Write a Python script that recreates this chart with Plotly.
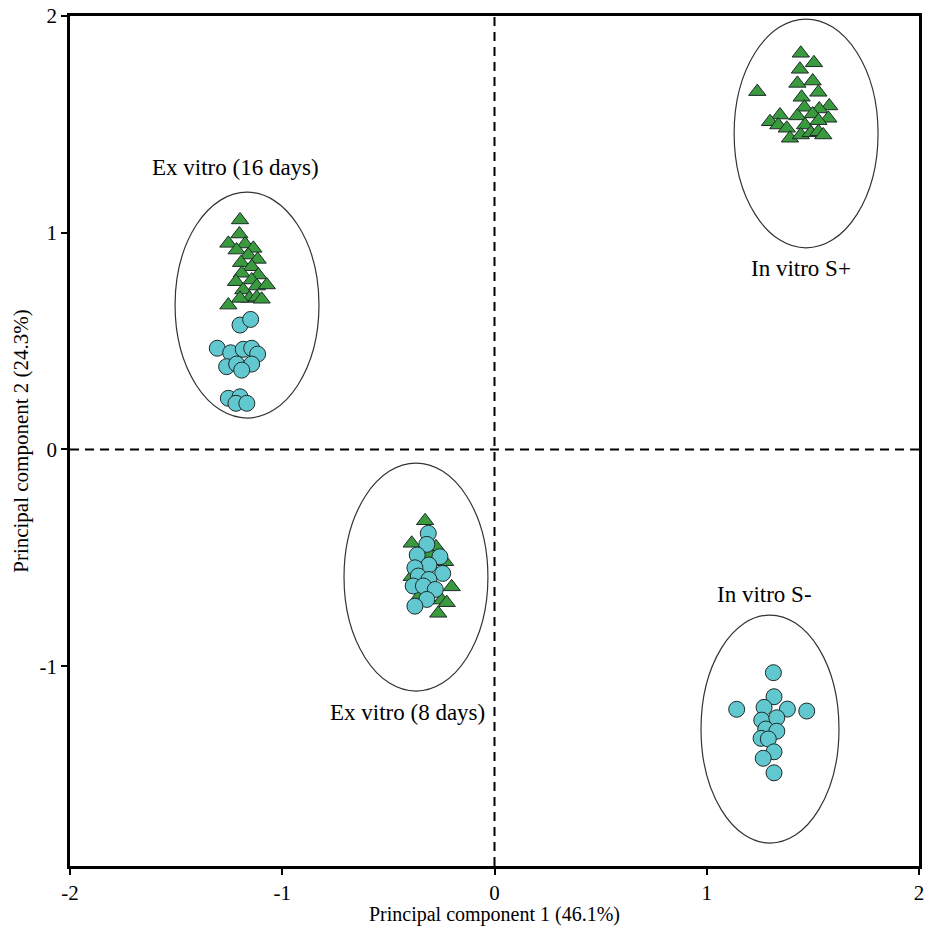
import plotly.graph_objects as go

# ---- data (PC1, PC2 scores) ----
ex16_tri_x = [-1.199, -1.202, -1.254, -1.175, -1.215, -1.136, -1.160, -1.116, -1.194, -1.144, -1.113,
              -1.191, -1.218, -1.144, -1.120, -1.073, -1.184, -1.155, -1.199, -1.254, -1.120, -1.097]
ex16_tri_y = [1.059, 0.994, 0.951, 0.948, 0.920, 0.928, 0.897, 0.877, 0.862, 0.843, 0.805,
              0.813, 0.774, 0.782, 0.754, 0.759, 0.736, 0.697, 0.697, 0.666, 0.702, 0.693]
ex16_cir_x = [-1.199, -1.149, -1.306, -1.243, -1.184, -1.144, -1.116, -1.262, -1.215, -1.144, -1.191,
              -1.254, -1.199, -1.218, -1.167]
ex16_cir_y = [0.574, 0.600, 0.467, 0.446, 0.462, 0.467, 0.440, 0.382, 0.394, 0.394, 0.366,
              0.236, 0.243, 0.213, 0.213]

ex8_tri_x = [-0.327, -0.390, -0.276, -0.233, -0.202, -0.249, -0.225, -0.265, -0.296, -0.390, -0.304, -0.351]
ex8_tri_y = [-0.329, -0.433, -0.449, -0.518, -0.634, -0.695, -0.707, -0.756, -0.649, -0.587, -0.487, -0.672]
ex8_cir_x = [-0.312, -0.319, -0.364, -0.257, -0.309, -0.375, -0.244, -0.359, -0.309, -0.383, -0.335,
             -0.279, -0.319, -0.375]
ex8_cir_y = [-0.387, -0.438, -0.487, -0.495, -0.533, -0.546, -0.572, -0.584, -0.600, -0.630, -0.630,
             -0.646, -0.692, -0.723]

sp_tri_x = [1.443, 1.505, 1.439, 1.238, 1.427, 1.499, 1.447, 1.526, 1.577, 1.460, 1.530, 1.345, 1.298,
            1.427, 1.499, 1.573, 1.337, 1.377, 1.463, 1.526, 1.392, 1.443, 1.490, 1.526, 1.549]
sp_tri_y = [1.828, 1.784, 1.754, 1.651, 1.689, 1.700, 1.625, 1.648, 1.585, 1.579, 1.571, 1.543, 1.512,
            1.539, 1.548, 1.528, 1.497, 1.482, 1.497, 1.517, 1.436, 1.451, 1.461, 1.466, 1.451]

sm_cir_x = [1.314, 1.317, 1.141, 1.270, 1.380, 1.471, 1.259, 1.330, 1.278, 1.330, 1.256, 1.290,
            1.317, 1.266, 1.317]
sm_cir_y = [-1.030, -1.141, -1.199, -1.190, -1.198, -1.207, -1.249, -1.238, -1.290, -1.300, -1.333,
            -1.336, -1.395, -1.425, -1.492]

# group ellipses: centre x, centre y, half-width, half-height
ell_cx = [-1.166, -0.370, 1.468, 1.298]
ell_cy = [0.666, -0.589, 1.458, -1.290]
ell_rx = [0.339, 0.339, 0.339, 0.325]
ell_ry = [0.521, 0.526, 0.528, 0.526]

group_labels = ["Ex vitro (16 days)", "Ex vitro (8 days)", "In vitro S+", "In vitro S-"]
label_x = [-1.218, -0.412, 1.444, 1.270]
label_y = [1.303, -1.216, 0.837, -0.667]

x_ticks = [-2, -1, 0, 1, 2]
y_ticks = [-1, 0, 1, 2]
x_range = [-2, 2]
y_range = [-1.922, 2]

FONT = "Liberation Serif, Times New Roman, serif"
TRI_COLOR = "#3a9a3e"
CIR_COLOR = "#62c8d0"
EDGE = "#1e2a2a"

fig = go.Figure()

def tri(x, y):
    fig.add_trace(go.Scatter(x=x, y=y, mode="markers", showlegend=False,
                             marker=dict(symbol="triangle-up", size=15, color=TRI_COLOR,
                                         line=dict(color=EDGE, width=1))))

def cir(x, y):
    fig.add_trace(go.Scatter(x=x, y=y, mode="markers", showlegend=False,
                             marker=dict(symbol="circle", size=16, color=CIR_COLOR,
                                         line=dict(color=EDGE, width=1))))

tri(ex16_tri_x, ex16_tri_y)
cir(ex16_cir_x, ex16_cir_y)
tri(ex8_tri_x, ex8_tri_y)
cir(ex8_cir_x, ex8_cir_y)
tri(sp_tri_x, sp_tri_y)
cir(sm_cir_x, sm_cir_y)

for cx, cy, rx, ry in zip(ell_cx, ell_cy, ell_rx, ell_ry):
    fig.add_shape(type="circle", xref="x", yref="y", x0=cx - rx, x1=cx + rx, y0=cy - ry, y1=cy + ry,
                  line=dict(color="#333333", width=1.2), layer="below")

# dashed zero lines
fig.add_shape(type="line", xref="x", yref="y", x0=x_range[0], x1=x_range[1], y0=0, y1=0,
              line=dict(color="black", width=2, dash="9px,6px"), layer="below")
fig.add_shape(type="line", xref="x", yref="y", x0=0, x1=0, y0=y_range[0], y1=y_range[1],
              line=dict(color="black", width=2, dash="9px,6px"), layer="below")

for t, lx, ly in zip(group_labels, label_x, label_y):
    fig.add_annotation(x=lx, y=ly, text=t, showarrow=False, xref="x", yref="y",
                       font=dict(family=FONT, size=23, color="black"))

axis_common = dict(showgrid=False, zeroline=False, showline=True, linecolor="black", linewidth=2.5,
                   mirror=True, ticks="outside", ticklen=6, tickwidth=2, tickcolor="black",
                   automargin=False,
                   tickfont=dict(family=FONT, size=21, color="black"))

fig.update_xaxes(range=x_range, tickvals=x_ticks, ticktext=[str(v) for v in x_ticks],
                 title=dict(text="Principal component 1 (46.1%)", standoff=8,
                            font=dict(family=FONT, size=20, color="black")),
                 **axis_common)
fig.update_yaxes(range=y_range, tickvals=y_ticks, ticktext=[str(v) for v in y_ticks],
                 title=dict(text="Principal component 2 (24.3%)", standoff=6,
                            font=dict(family=FONT, size=21, color="black")),
                 **axis_common)

fig.update_layout(width=929, height=926, autosize=False,
                  margin=dict(l=70, r=10, t=16, b=60),
                  plot_bgcolor="white", paper_bgcolor="white")

fig.write_html("out.html")
